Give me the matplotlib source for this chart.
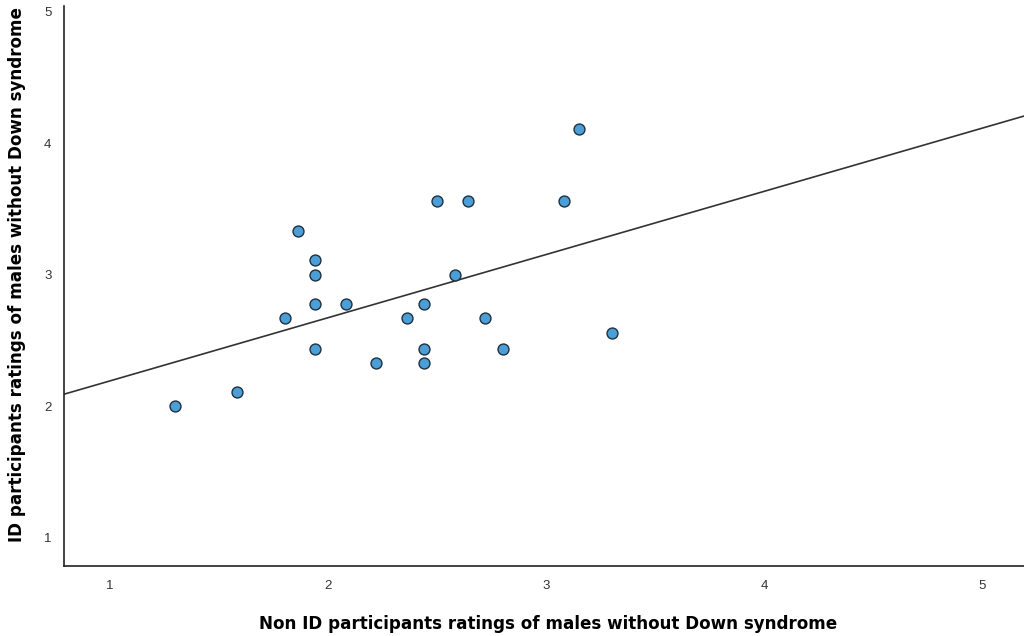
import matplotlib
matplotlib.use("Agg")
import matplotlib.pyplot as plt
import numpy as np

# ratings: non-ID participants (x) vs ID participants (y)
non_id = [1.30, 1.58, 1.80, 1.86, 1.94, 1.94, 1.94, 1.94, 2.08, 2.22, 2.36,
          2.44, 2.44, 2.44, 2.50, 2.58, 2.64, 2.72, 2.80, 3.08, 3.15, 3.30]
id_part = [2.00, 2.11, 2.67, 3.33, 3.11, 3.00, 2.78, 2.44, 2.78, 2.33, 2.67,
           2.78, 2.44, 2.33, 3.56, 3.00, 3.56, 2.67, 2.44, 3.56, 4.11, 2.56]
x_ticks = [1, 2, 3, 4, 5]
y_ticks = [1, 2, 3, 4, 5]

plt.rcParams['font.family'] = ['Liberation Sans', 'DejaVu Sans']

fig = plt.figure(figsize=(10.24, 6.36), dpi=100)
ax = fig.add_axes([64/1024, 1-566/636, 960/1024, 560/636])

x_lo, x_hi = 0.789, 5.19
y_lo, y_hi = 0.786, 5.045

# linear fit line across the whole x range
slope, icpt = np.polyfit(non_id, id_part, 1)
xs = np.array([x_lo, x_hi])
ax.plot(xs, icpt + slope*xs, color='#333333', lw=1.2, zorder=2)

ax.scatter(non_id, id_part, s=62, color='#4c9fd6', edgecolors='#1f3140',
           linewidths=1.0, zorder=3)

ax.set_xlim(x_lo, x_hi)
ax.set_ylim(y_lo, y_hi)
ax.set_xticks(x_ticks)
ax.set_yticks(y_ticks)
ax.tick_params(length=0, labelsize=9.5, labelcolor='#333333', pad=10)
ax.tick_params(axis='y', pad=9)
for s in ['top', 'right']:
    ax.spines[s].set_visible(False)
for s in ['left', 'bottom']:
    ax.spines[s].set_color('#222222')
    ax.spines[s].set_linewidth(1.2)

ax.set_xlabel('Non ID participants ratings of males without Down syndrome',
              fontsize=12.1, fontweight='bold', family='DejaVu Sans')
ax.set_ylabel('ID participants ratings of males without Down syndrome',
              fontsize=12.1, fontweight='bold', family='DejaVu Sans')
ax.xaxis.set_label_coords(0.504, -0.087)
ax.yaxis.set_label_coords(-0.040, 0.52)

fig.savefig('out.png', dpi=100)
